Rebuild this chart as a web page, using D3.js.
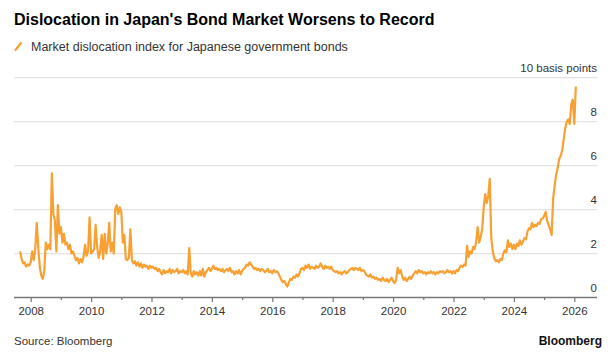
<!DOCTYPE html>
<html>
<head>
<meta charset="utf-8">
<script src="https://cdn.jsdelivr.net/npm/d3@7"></script>
<style>
  html, body { margin: 0; padding: 0; background: #fff; }
  svg { display: block; font-family: "Liberation Sans", Arial, sans-serif; }
</style>
</head>
<body>
<svg id="chart" width="611" height="357"></svg>
<script>
// ---- data ----
const title = "Dislocation in Japan's Bond Market Worsens to Record";
const legendLabel = "Market dislocation index for Japanese government bonds";
const unitLabel = "10 basis points";
const sourceLabel = "Source: Bloomberg";
const brandLabel = "Bloomberg";

const yTicks = [0, 2, 4, 6, 8, 10];
const xTickYears = [2008, 2009, 2010, 2011, 2012, 2013, 2014, 2015, 2016, 2017,
                    2018, 2019, 2020, 2021, 2022, 2023, 2024, 2025, 2026];

// sampling of the series: first sample date (decimal year) and spacing (years)
const firstSample = 2007.65;
const sampleStep = 0.05;

// index values, in basis points, one row per calendar year
const v2007 = [2.1,1.75,1.55,1.6,1.4,1.5,1.45];
const v2008 = [1.6,2.1,1.7,2.2,3.4,2.3,1.4,1.0,0.85,1.2, 2.5,2.2,2.4,2.2,5.65,3.8,3.5,2.1,4.2,2.9];
const v2009 = [3.2,2.5,2.9,2.4,2.5,2.2,2.4,2.0,2.1,1.9, 1.7,1.8,1.55,1.75,1.6,1.85,2.4,1.9,2.1,3.65];
const v2010 = [2.0,2.1,2.2,3.3,2.3,1.8,2.1,2.85,1.75,2.9, 2.0,2.45,3.4,2.1,2.5,2.0,4.05,4.2,3.8,4.1];
const v2011 = [3.9,2.5,2.85,1.75,1.7,1.8,3.1,1.7,1.55,1.65, 1.45,1.6,1.4,1.55,1.35,1.5,1.4,1.45,1.3,1.45];
const v2012 = [1.35,1.4,1.3,1.35,1.2,1.3,1.15,1.05,1.25,1.1, 1.2,1.15,1.3,1.1,1.25,1.15,1.2,1.3,1.1,1.2];
const v2013 = [1.15,1.25,1.1,1.2,1.05,2.25,1.1,0.95,1.2,1.05, 1.15,1.0,1.2,1.0,1.3,0.95,1.15,1.25,1.35,1.2];
const v2014 = [1.3,1.45,1.3,1.35,1.25,1.3,1.2,1.3,1.15,1.25, 1.3,1.2,1.35,1.15,1.2,1.05,1.2,1.1,1.25,1.05];
const v2015 = [1.2,1.3,1.35,1.5,1.45,1.6,1.5,1.4,1.3,1.35, 1.25,1.3,1.2,1.3,1.25,1.15,1.2,1.3,1.15,1.2];
const v2016 = [1.1,1.25,1.15,1.2,1.1,0.95,0.8,0.7,0.75,0.6, 0.5,0.7,0.85,0.8,0.95,0.9,1.05,0.95,1.1,1.3];
const v2017 = [1.35,1.25,1.45,1.35,1.5,1.3,1.4,1.35,1.3,1.45, 1.35,1.4,1.55,1.4,1.3,1.45,1.35,1.4,1.3,1.4];
const v2018 = [1.25,1.2,1.15,1.2,1.1,1.15,1.05,1.15,1.2,1.1, 1.15,1.25,1.3,1.35,1.25,1.35,1.3,1.25,1.35,1.2];
const v2019 = [1.25,1.2,1.05,1.0,0.95,1.05,0.9,0.95,0.85,0.9, 0.8,0.85,0.75,0.9,0.8,0.75,0.85,0.7,0.8,0.9];
const v2020 = [0.75,0.65,0.8,1.35,1.1,1.25,0.95,0.8,0.9,0.75, 0.85,0.95,0.85,1.0,1.1,1.2,1.1,1.25,1.15,1.2];
const v2021 = [1.1,1.15,1.05,1.15,1.1,1.2,1.1,1.15,1.05,1.15, 1.1,1.2,1.15,1.2,1.1,1.15,1.25,1.15,1.2,1.1];
const v2022 = [1.2,1.1,1.25,1.2,1.35,1.45,1.4,1.5,1.45,2.35, 1.85,2.1,2.0,2.3,2.2,2.55,3.2,2.5,2.75,3.1];
const v2023 = [4.1,4.7,4.3,4.6,5.4,2.7,2.1,1.8,1.65,1.7, 1.6,1.75,1.7,2.0,2.15,2.05,2.6,2.3,2.45,2.2];
const v2024 = [2.4,2.2,2.45,2.35,2.6,2.4,2.55,2.7,2.65,3.0, 3.15,3.1,3.4,3.2,3.3,3.25,3.4,3.35,3.55,3.6];
const v2025 = [3.7,3.9,3.5,3.3,3.1,2.85,4.5,5.1,5.6,5.9, 6.3,6.45,6.7,7.2,7.7,8.0,8.1,7.9,8.8,9.0];
const v2026 = [7.9,9.6];

const values = [].concat(v2007, v2008, v2009, v2010, v2011, v2012, v2013, v2014, v2015,
  v2016, v2017, v2018, v2019, v2020, v2021, v2022, v2023, v2024, v2025, v2026);
const series = values.map((v, i) => ({ t: firstSample + i * sampleStep, v }));

// ---- layout ----
const svg = d3.select("#chart");
const plotLeft = 14, plotRight = 597;
const orange = "#F8A032";

const x = d3.scaleLinear().domain([2008, 2026]).range([30.7, 574.3]);
const y = d3.scaleLinear().domain([0, 10]).range([297.5, 77.7]);

// title
svg.append("text")
  .attr("x", 14).attr("y", 25)
  .attr("font-size", 16).attr("font-weight", "bold").attr("fill", "#000")
  .text(title);

// legend
svg.append("line")
  .attr("x1", 15.5).attr("y1", 50).attr("x2", 21).attr("y2", 43)
  .attr("stroke", orange).attr("stroke-width", 2.2).attr("stroke-linecap", "round");
svg.append("text")
  .attr("x", 31).attr("y", 50.5)
  .attr("font-size", 12.5).attr("fill", "#333")
  .text(legendLabel);

// gridlines
svg.append("g").selectAll("line")
  .data(yTicks.filter(d => d > 0))
  .join("line")
  .attr("x1", plotLeft).attr("x2", plotRight)
  .attr("y1", d => y(d)).attr("y2", d => y(d))
  .attr("stroke", "#e3e3e3").attr("stroke-width", 1.2);

// y labels (right aligned, above gridlines)
svg.append("g").selectAll("text")
  .data(yTicks)
  .join("text")
  .attr("x", plotRight).attr("y", d => y(d) - 5.5)
  .attr("text-anchor", "end")
  .attr("font-size", 11.5).attr("fill", "#333")
  .text(d => d === 10 ? unitLabel : d);

// line
const line = d3.line()
  .x(d => x(d.t))
  .y(d => y(d.v));
svg.append("path")
  .datum(series)
  .attr("d", line)
  .attr("fill", "none")
  .attr("stroke", orange)
  .attr("stroke-width", 2.2)
  .attr("stroke-linejoin", "round");

// x axis
const xAxis = d3.axisBottom(x)
  .tickValues(xTickYears)
  .tickSize(0)
  .tickFormat(d => d % 2 === 0 ? d : "");
const gx = svg.append("g").attr("transform", `translate(0,${y(0)})`).call(xAxis);
gx.select(".domain").remove();
gx.append("line")
  .attr("x1", plotLeft).attr("x2", plotRight)
  .attr("y1", 0).attr("y2", 0)
  .attr("stroke", "#777").attr("stroke-width", 1.4);
gx.selectAll(".tick").append("line")
  .attr("y1", 0).attr("y2", d => d % 2 === 0 ? 4.5 : 2.5)
  .attr("stroke", "#777").attr("stroke-width", 1.2);
gx.selectAll(".tick text")
  .attr("y", 17.5).attr("dy", 0)
  .attr("font-size", 11.5).attr("fill", "#333")
  .attr("font-family", "Liberation Sans, Arial, sans-serif");

// footer
svg.append("text")
  .attr("x", 14).attr("y", 345)
  .attr("font-size", 11.5).attr("fill", "#333")
  .text(sourceLabel);
svg.append("text")
  .attr("x", 602).attr("y", 345)
  .attr("text-anchor", "end")
  .attr("font-size", 12).attr("font-weight", "bold").attr("fill", "#111")
  .text(brandLabel);
</script>
</body>
</html>
